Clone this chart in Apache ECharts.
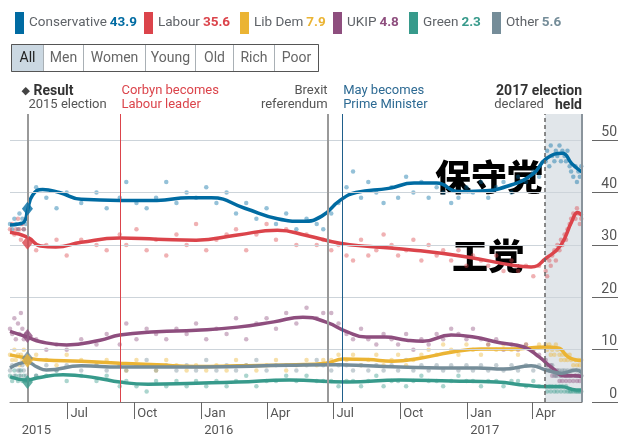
<!DOCTYPE html>
<html><head><meta charset="utf-8">
<script src="https://cdn.jsdelivr.net/npm/echarts@6/dist/echarts.min.js"></script>
<style>html,body{margin:0;padding:0;background:#fff}#c{width:631px;height:439px}</style>
</head><body><div id="c"></div>
<script>
// ---------- DATA ----------
const parties = ['Conservative', 'Labour', 'Lib Dem', 'UKIP', 'Green', 'Other'];
const latest = [43.9, 35.6, 7.9, 4.8, 2.3, 5.6];
const result2015 = [36.9, 30.4, 7.9, 12.6, 3.8, 8.4];
const electionDate = '2015-05-07';
const buttons = ['All', 'Men', 'Women', 'Young', 'Old', 'Rich', 'Poor'];
const tickDates = ['2015-07-01','2015-10-01','2016-01-01','2016-04-01','2016-07-01','2016-10-01','2017-01-01','2017-04-01'];
const yTicks = [0, 10, 20, 30, 40, 50];

const pollDates = [
 '2015-04-13','2015-04-16','2015-04-19','2015-04-21','2015-04-24','2015-04-26','2015-04-28','2015-04-30','2015-05-02','2015-05-05',
 '2015-05-19','2015-06-02','2015-06-16','2015-06-30','2015-07-20','2015-08-10','2015-08-24','2015-09-11','2015-09-20','2015-10-04',
 '2015-10-18','2015-10-31','2015-11-14','2015-11-28','2015-12-12','2015-12-25','2016-01-08','2016-01-22','2016-02-05','2016-02-18',
 '2016-03-03','2016-03-17','2016-03-31','2016-04-13','2016-04-27','2016-05-11','2016-05-25','2016-06-08','2016-06-17',
 '2016-06-28','2016-07-08','2016-07-19','2016-07-28','2016-08-08','2016-08-18','2016-08-29','2016-09-08','2016-09-19','2016-09-28',
 '2016-10-09','2016-10-19','2016-10-30','2016-11-09','2016-11-20','2016-11-29','2016-12-10','2016-12-20','2016-12-31','2017-01-09',
 '2017-01-20','2017-01-30','2017-02-10','2017-02-20','2017-03-03','2017-03-12','2017-03-23','2017-04-02','2017-04-10',
 '2017-04-19','2017-04-21','2017-04-24','2017-04-26','2017-04-28','2017-05-01','2017-05-03','2017-05-05','2017-05-08','2017-05-10',
 '2017-05-12','2017-05-15','2017-05-17','2017-05-19','2017-05-22','2017-05-24','2017-05-27','2017-05-30','2017-06-01','2017-06-03',
 '2017-06-05','2017-06-07'];

const conPolls = [34,33,35,34,33,36,34,35,33,34,
 41,39,37,40,38,40,37,39,42,38,37,39,42,38,40,39,41,38,40,36,38,35,37,34,36,33,35,34,33,
 36,38,41,44,39,42,40,38,41,39,43,40,42,39,41,40,38,39,41,40,42,39,41,42,40,43,42,44,43,
 46,48,45,49,47,46,48,47,49,46,48,47,46,48,45,44,43,45,42,44,43,45];
const labPolls = [33,34,32,33,35,33,31,34,33,35,
 29,30,31,28,31,30,29,32,30,33,29,31,28,32,30,34,29,31,32,33,29,32,34,31,33,30,32,30,31,
 29,30,28,27,31,28,29,32,30,28,29,31,27,30,28,29,27,29,26,28,27,26,28,25,27,25,26,24,26,
 25,24,27,26,28,29,27,30,29,31,30,32,31,33,34,35,36,35,37,36,34,35];
const ldPolls = [9,8,10,8,9,7,9,8,10,8,
 9,8,7,9,8,7,8,7,6,8,7,6,8,7,6,7,6,7,6,8,7,6,7,8,6,7,8,7,8,
 8,9,8,9,7,8,9,7,8,9,7,8,9,10,9,11,10,9,11,10,9,11,10,11,10,9,11,10,11,
 11,10,11,9,10,9,11,10,9,8,9,8,9,8,9,8,7,8,7,8,7,8];
const ukipPolls = [14,13,16,12,15,13,17,14,12,13,
 12,10,11,10,12,11,13,11,15,12,14,13,12,14,13,15,12,14,13,16,12,15,16,14,17,15,18,16,17,
 17,15,13,12,14,12,11,13,12,11,13,10,12,11,13,12,14,13,12,14,12,11,12,10,11,10,11,10,9,
 8,7,6,7,5,6,5,6,4,5,4,5,4,5,4,5,4,5,4,5,4,5];
const grnPolls = [5,4,6,5,4,5,6,4,5,4,
 5,5,6,4,5,4,5,3,4,3,2,4,3,4,3,4,3,4,3,4,5,3,4,4,5,4,5,4,4,
 4,3,4,4,3,4,5,3,4,4,3,4,5,4,4,3,4,5,4,4,3,4,4,3,4,4,3,4,3,
 3,2,3,2,3,2,3,2,3,2,3,2,3,2,2,2,2,2,2,2,2,2];
const othPolls = [6,7,5,7,6,6,5,7,6,5,
 5,7,6,7,6,7,6,7,6,7,8,6,7,6,7,6,8,6,7,6,7,8,6,7,7,6,7,8,7,
 6,7,7,6,7,6,7,6,7,6,8,6,7,6,7,6,7,6,7,6,7,6,7,6,7,6,7,6,7,
 6,7,6,6,7,5,6,5,6,5,6,6,5,6,5,6,6,5,6,5,6,5];

const conTrend = [['2015-04-13',33.8],['2015-04-25',34.0],['2015-05-03',34.5],['2015-05-07',36.5],['2015-05-14',39.5],['2015-05-28',40.6],
 ['2015-06-20',40.0],['2015-07-20',38.7],['2015-09-11',38.5],['2015-11-01',38.5],['2015-12-15',39.0],['2016-01-15',39.0],['2016-03-01',37.0],
 ['2016-04-15',35.0],['2016-05-20',34.5],['2016-06-15',35.5],['2016-07-10',38.5],['2016-08-01',40.0],['2016-09-15',40.8],['2016-10-20',41.8],
 ['2016-11-20',41.8],['2016-12-20',40.2],['2017-01-20',40.3],['2017-02-25',41.2],['2017-04-01',43.5],['2017-04-20',46.5],['2017-05-12',47.5],
 ['2017-05-25',45.5],['2017-06-08',43.9]];
const labTrend = [['2015-04-13',32.4],['2015-05-07',31.5],['2015-05-25',29.8],['2015-06-15',29.6],['2015-07-20',30.5],['2015-09-11',31.3],
 ['2015-11-01',31.1],['2015-12-25',30.9],['2016-02-20',31.9],['2016-04-15',32.8],['2016-05-25',31.8],['2016-07-10',30.3],['2016-08-20',29.7],
 ['2016-10-20',29.0],['2017-01-01',27.7],['2017-03-05',26.1],['2017-03-30',25.8],['2017-04-20',27.5],['2017-05-10',30.0],['2017-05-25',34.5],
 ['2017-06-02',36.2],['2017-06-08',35.6]];
const ldTrend = [['2015-04-13',9.0],['2015-05-07',8.4],['2015-05-30',8.0],['2015-07-20',7.8],['2015-09-11',7.4],['2015-11-01',7.1],
 ['2015-12-25',6.8],['2016-02-20',6.9],['2016-05-10',7.1],['2016-06-20',7.4],['2016-07-15',8.2],['2016-08-18',8.1],['2016-09-20',7.8],
 ['2016-10-30',8.4],['2016-12-10',9.5],['2017-01-20',10.1],['2017-03-03',10.1],['2017-04-20',10.5],['2017-05-06',10.3],['2017-05-20',8.6],
 ['2017-06-01',8.0],['2017-06-08',7.9]];
const ukipTrend = [['2015-04-13',13.5],['2015-05-07',12.4],['2015-05-25',11.5],['2015-06-30',10.9],['2015-08-15',11.8],['2015-09-11',12.8],
 ['2015-11-01',13.4],['2015-12-25',13.7],['2016-02-20',14.3],['2016-04-10',15.3],['2016-05-20',16.2],['2016-06-20',15.3],['2016-07-20',13.4],
 ['2016-08-15',12.4],['2016-09-10',12.4],['2016-10-10',11.8],['2016-11-01',11.6],['2016-12-10',12.8],['2017-01-10',12.4],['2017-02-15',11.3],
 ['2017-03-20',10.5],['2017-04-10',8.6],['2017-04-28',6.5],['2017-05-15',5.0],['2017-05-30',5.0],['2017-06-08',4.8]];
const grnTrend = [['2015-04-13',4.8],['2015-05-07',4.2],['2015-05-20',4.6],['2015-06-25',5.2],['2015-08-10',4.6],['2015-09-11',3.8],
 ['2015-10-20',3.4],['2015-12-25',3.6],['2016-02-20',3.8],['2016-05-01',4.2],['2016-07-20',3.8],['2016-10-01',4.2],['2016-12-10',4.0],
 ['2017-02-10',3.8],['2017-03-23',3.2],['2017-04-20',2.9],['2017-05-11',2.9],['2017-05-31',2.3],['2017-06-08',2.3]];
const othTrend = [['2015-04-13',6.5],['2015-05-07',7.6],['2015-05-20',6.7],['2015-06-02',6.1],['2015-07-20',6.9],['2015-09-11',6.7],
 ['2016-01-01',6.7],['2016-05-01',7.0],['2016-07-08',7.1],['2016-08-18',6.9],['2016-10-01',6.7],['2016-11-25',6.5],['2017-01-15',6.5],
 ['2017-02-20',6.3],['2017-03-30',6.9],['2017-04-20',6.1],['2017-05-11',5.5],['2017-05-31',6.1],['2017-06-08',5.6]];

const events = [
 {date:'2015-05-07', key:'result'},
 {date:'2015-09-12', key:'corbyn'},
 {date:'2016-06-23', key:'brexit'},
 {date:'2016-07-13', key:'may'}];
const declared = '2017-04-18', held = '2017-06-08';

// ---------- STYLE / BUILD ----------
const colors = ['#006BA2', '#DB444B', '#EBB434', '#8E4E7E', '#379A8B', '#758D99'];
const FONT = 'Roboto, "Noto Sans", sans-serif';
const ts = s => { const [y, m, d] = s.split('-').map(Number); return new Date(y, m - 1, d).getTime(); };
const polls = [conPolls, labPolls, ldPolls, ukipPolls, grnPolls, othPolls];
const trends = [conTrend, labTrend, ldTrend, ukipTrend, grnTrend, othTrend];

const chart = echarts.init(document.getElementById('c'), null, {renderer: 'canvas'});
const series = [];
series.push({type: 'line', data: [], silent: true, z: 0,
  markLine: {silent: true, symbol: 'none', label: {show: false},
    lineStyle: {color: '#cdd4da', width: 1, type: 'solid'},
    data: yTicks.filter(v => v > 0).map(v => ({yAxis: v}))}});
series.push({type: 'line', data: [], silent: true, z: 1,
  markArea: {silent: true, itemStyle: {color: '#e1e6ea'}, data: [[{xAxis: ts(declared)}, {xAxis: ts(held)}]]}});
const evStyle = {result: {color: '#999', width: 2}, corbyn: {color: '#DB444B', width: 1},
  brexit: {color: '#999', width: 2}, may: {color: '#1f5f8b', width: 1}};
series.push({type: 'line', data: [], silent: true, z: 1,
  markLine: {silent: true, symbol: 'none', label: {show: false},
    data: events.map(e => ({xAxis: ts(e.date), lineStyle: Object.assign({type: 'solid'}, evStyle[e.key])}))
      .concat([{xAxis: ts(declared), lineStyle: {color: '#666', width: 1.5, type: [4, 3]}},
               {xAxis: ts(held), lineStyle: {color: '#8a949c', width: 2, type: 'solid'}}])}});

parties.forEach((p, i) => {
  series.push({name: p, type: 'line', smooth: 0.5, showSymbol: false, z: 4,
    color: colors[i], lineStyle: {width: 3.5, color: colors[i]},
    data: trends[i].map(d => [ts(d[0]), d[1]])});
});
parties.forEach((p, i) => {
  series.push({name: p, type: 'scatter', z: 3, symbol: 'circle', symbolSize: 4.5,
    itemStyle: {color: colors[i], opacity: 0.42},
    data: pollDates.map((d, k) => [ts(d), polls[i][k]])});
});
series.push({type: 'scatter', z: 5, symbol: 'diamond', symbolSize: [11, 14],
  data: [5, 2, 4, 3, 1, 0].map(i => ({value: [ts(electionDate), result2015[i]], itemStyle: {color: colors[i]}}))});

const legendLeft = [10, 139, 235, 328, 404, 487];
const rich = {n: {color: '#5f6368', fontSize: 13.5, fontFamily: FONT}};
colors.forEach((c, i) => rich['v' + i] = {color: c, fontSize: 13.5, fontWeight: 'bold', fontFamily: FONT});
const legends = parties.map((p, i) => ({
  data: [p], left: legendLeft[i], top: 7, icon: 'rect', itemWidth: 9, itemHeight: 22, itemGap: 4,
  formatter: n => `{n|${n}} {v${i}|${latest[i].toFixed(1)}}`, textStyle: {rich}
}));

const monthNames = ['Jan','Feb','Mar','Apr','May','Jun','Jul','Aug','Sep','Oct','Nov','Dec'];
const tickValues = tickDates.map(ts);
const labelValues = [ts('2015-04-25')].concat(tickValues);

chart.setOption({
  animation: false,
  textStyle: {fontFamily: FONT},
  grid: {left: 10, right: 49, top: 114, bottom: 37},
  legend: legends,
  xAxis: {type: 'value', min: ts('2015-04-13'), max: ts(held), scale: true,
    axisLine: {lineStyle: {color: '#7a7a7a', width: 1}},
    axisTick: {show: true, length: 17, lineStyle: {color: '#666'}, customValues: tickValues},
    axisLabel: {customValues: labelValues, align: 'left', margin: 3, padding: [0, 0, 0, 3],
      color: '#555', fontSize: 13, lineHeight: 17, hideOverlap: false,
      showMinLabel: true, showMaxLabel: true,
      formatter: v => {
        const d = new Date(v);
        if (d.getDate() !== 1) return ' \n' + d.getFullYear();
        const m = d.getMonth();
        return m === 0 ? 'Jan\n' + d.getFullYear() : monthNames[m];
      }},
    splitLine: {show: false}},
  yAxis: {type: 'value', min: 0, max: 55, position: 'right', offset: 10,
    axisLine: {show: false},
    axisTick: {show: true, length: 26, lineStyle: {color: '#666', width: 1}, customValues: yTicks},
    axisLabel: {customValues: yTicks, margin: 26, align: 'right', verticalAlign: 'bottom',
      padding: [0, 1, 1, 0], color: '#555', fontSize: 14},
    splitLine: {show: false}},
  series
});

// ---------- annotations, buttons, overlay labels ----------
const X = s => chart.convertToPixel({xAxisIndex: 0}, ts(s));
const txt = (x, y, text, o) => ({type: 'text', x, y, silent: true, style: Object.assign({
  text, fontFamily: FONT, fontSize: 13, fill: '#555', verticalAlign: 'middle', align: 'left'}, o || {})});
const E = X(electionDate), C = X('2015-09-12'), B = X('2016-06-23'), M = X('2016-07-13');
const D = X(declared), H = X(held);
const L1 = 91, L2 = 105;
const g = [
  txt(E - 6, L1, '◆', {fill: '#444', fontSize: 11, fontFamily: '"DejaVu Sans"'}),
  txt(E + 6, L1, 'Result', {fill: '#333', fontWeight: 'bold', fontSize: 14}),
  txt(E + 1, L2, '2015 election'),
  txt(C + 1, L1, 'Corbyn becomes', {fill: '#DB444B'}),
  txt(C + 1, L2, 'Labour leader', {fill: '#DB444B'}),
  txt(B, L1, 'Brexit', {align: 'right'}),
  txt(B, L2, 'referendum', {align: 'right'}),
  txt(M + 1, L1, 'May becomes', {fill: '#2d6a93'}),
  txt(M + 1, L2, 'Prime Minister', {fill: '#2d6a93'}),
  txt(H, L1, '2017 election', {align: 'right', fontWeight: 'bold', fill: '#333', fontSize: 14}),
  txt(D - 1, L2, 'declared', {align: 'right'}),
  txt(H, L2, 'held', {align: 'right', fontWeight: 'bold', fill: '#333', fontSize: 14}),
  txt(489, 177, '保守党', {align: 'center', fontSize: 36, fontWeight: 900, fill: '#000', fontFamily: '"Noto Sans CJK SC"'}),
  txt(488, 256, '工党', {align: 'center', fontSize: 36, fontWeight: 900, fill: '#000', fontFamily: '"Noto Sans CJK SC"'})
];
const edges = [11, 43, 83, 145, 195, 233, 274, 318];
buttons.forEach((b, i) => {
  g.push({type: 'rect', silent: true, shape: {x: edges[i] + 0.5, y: 44.5, width: edges[i + 1] - edges[i], height: 27},
    style: {fill: i === 0 ? '#cbd8e2' : '#fff', stroke: '#a9b0b5', lineWidth: 1}});
  g.push(txt((edges[i] + edges[i + 1]) / 2 + 0.5, 58, b, {align: 'center', fontSize: 14,
    fill: i === 0 ? '#222' : '#666'}));
});
g.push({type: 'rect', silent: true, shape: {x: edges[0] + 0.5, y: 44.5, width: edges[7] - edges[0], height: 27},
  style: {fill: 'none', stroke: '#555', lineWidth: 1}});
chart.setOption({graphic: g});
</script></body></html>
